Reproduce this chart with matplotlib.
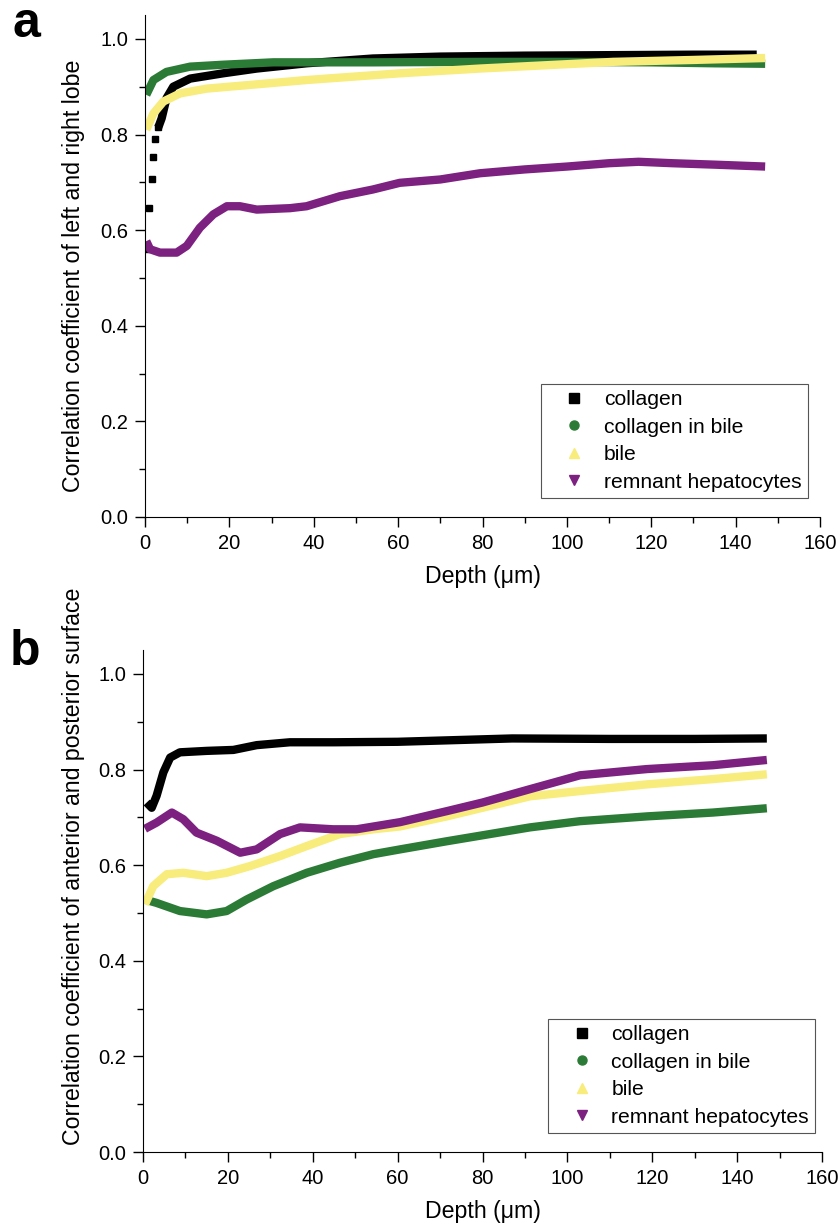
import matplotlib
matplotlib.use("Agg")
import matplotlib.pyplot as plt
from matplotlib.lines import Line2D
from matplotlib.ticker import MultipleLocator, FormatStrFormatter

plt.rcParams['font.family'] = ['Liberation Sans', 'DejaVu Sans']

## panel a: left vs right lobe
# collagen: first points are single squares, then a continuous band
depth_a_col_pts = [0.3, 1.0, 1.58, 1.98, 2.37, 3.16]
col_a_pts = [0.56, 0.646, 0.707, 0.752, 0.79, 0.815]
depth_a_col = [3.16, 3.95, 5.1, 6.7, 10.7, 18.5, 26.5, 38.3, 54, 70, 90, 110, 130, 145]
col_a = [0.815, 0.834, 0.876, 0.9, 0.917, 0.928, 0.938, 0.949, 0.959, 0.963, 0.965, 0.966, 0.967, 0.967]

depth_a_cib = [0.3, 2, 5.1, 10.7, 18.5, 30.4, 54, 80, 100, 120, 135, 147]
cib_a = [0.883, 0.914, 0.931, 0.942, 0.946, 0.951, 0.951, 0.952, 0.952, 0.951, 0.949, 0.948]

depth_a_bile = [0.3, 2, 4.35, 8.3, 14.6, 26.5, 38.3, 54, 60.4, 79.4, 111, 130, 147]
bile_a = [0.81, 0.844, 0.869, 0.886, 0.896, 0.905, 0.914, 0.924, 0.928, 0.938, 0.952, 0.956, 0.96]

depth_a_hep = [0.3, 1.2, 3.55, 7.5, 9.9, 13, 16.2, 19.4, 22.5, 26.5, 34.4, 38.3, 46.2, 54, 60.4,
               70, 79.4, 90, 100, 110, 117, 125, 135, 147]
hep_a = [0.577, 0.56, 0.553, 0.553, 0.567, 0.605, 0.633, 0.65, 0.65, 0.643, 0.646, 0.65, 0.671, 0.685, 0.699,
         0.706, 0.719, 0.727, 0.733, 0.74, 0.743, 0.74, 0.737, 0.733]

## panel b: anterior vs posterior surface
depth_b_col = [0.87, 2.05, 3.2, 4.8, 6.4, 8.7, 15, 21.3, 26.8, 34.6, 45, 60, 87, 110, 130, 147]
col_b = [0.731, 0.72, 0.745, 0.794, 0.825, 0.836, 0.839, 0.841, 0.851, 0.857, 0.857, 0.858, 0.865, 0.864, 0.864, 0.865]

depth_b_cib = [0.47, 3.2, 8.7, 15, 19.7, 24.4, 30.7, 38.6, 46.4, 54.3, 60.6, 71.6, 91.2, 103, 118.8, 134.3, 147]
cib_b = [0.528, 0.521, 0.504, 0.497, 0.504, 0.528, 0.556, 0.584, 0.605, 0.623, 0.633, 0.65, 0.679, 0.692, 0.702, 0.71, 0.719]

depth_b_bile = [0.47, 2.4, 5.6, 9.5, 15, 19.7, 25.2, 32.3, 38.6, 46.4, 54.3, 60.6, 71.6, 91.2, 103, 118.8, 134.3, 147]
bile_b = [0.518, 0.556, 0.581, 0.584, 0.577, 0.584, 0.598, 0.619, 0.64, 0.665, 0.675, 0.681, 0.702, 0.744, 0.755, 0.769, 0.78, 0.79]

depth_b_hep = [0.47, 3.2, 6.8, 9.5, 12.6, 17.4, 22.9, 26.8, 32.3, 37, 44.8, 50.3, 60.6, 71.6, 80, 91.2,
               103, 118.8, 134.3, 147]
hep_b = [0.676, 0.689, 0.71, 0.696, 0.668, 0.651, 0.626, 0.633, 0.665, 0.679, 0.675, 0.675, 0.69, 0.713, 0.731, 0.759,
         0.788, 0.801, 0.809, 0.82]

labels = ['collagen', 'collagen in bile', 'bile', 'remnant hepatocytes']
colors = ['black', '#2b7b36', '#f7ec7c', '#7d2181']
markers = ['s', 'o', '^', 'v']

fig = plt.figure(figsize=(8.4, 12.29), dpi=100)
ax_a = fig.add_axes([145/840, 1-517/1229, 675/840, 502/1229])
ax_b = fig.add_axes([143/840, 1-1152/1229, 679/840, 502/1229])

LW = 6
style = dict(lw=LW, solid_capstyle='butt', solid_joinstyle='round')

# a
ax_a.plot(depth_a_col_pts, col_a_pts, 's', color=colors[0], ms=4.5)
ax_a.plot(depth_a_col, col_a, '-', color=colors[0], **style)
ax_a.plot(depth_a_cib, cib_a, '-', color=colors[1], **style)
ax_a.plot(depth_a_bile, bile_a, '-', color=colors[2], **style)
ax_a.plot(depth_a_hep, hep_a, '-', color=colors[3], **style)

# b
ax_b.plot(depth_b_col, col_b, '-', color=colors[0], **style)
ax_b.plot(depth_b_cib, cib_b, '-', color=colors[1], **style)
ax_b.plot(depth_b_bile, bile_b, '-', color=colors[2], **style)
ax_b.plot(depth_b_hep, hep_b, '-', color=colors[3], **style)

handles = [Line2D([], [], ls='none', marker=m, color=c, ms=6.5) for m, c in zip(markers, colors)]

panels = [(ax_a, 'Correlation coefficient of left and right lobe', (0.982, 0.038), -0.089, 0.48),
          (ax_b, 'Correlation coefficient of anterior and posterior surface', (0.99, 0.038), -0.085, 0.57)]
for ax, ylab, anchor, ylx, yly in panels:
    ax.set_xlim(0, 160)
    ax.set_ylim(0, 1.05)
    ax.spines['top'].set_visible(False)
    ax.spines['right'].set_visible(False)
    ax.xaxis.set_major_locator(MultipleLocator(20))
    ax.xaxis.set_minor_locator(MultipleLocator(10))
    ax.yaxis.set_major_locator(MultipleLocator(0.2))
    ax.yaxis.set_minor_locator(MultipleLocator(0.1))
    ax.yaxis.set_major_formatter(FormatStrFormatter('%.1f'))
    ax.tick_params(which='major', direction='out', length=7, width=1, labelsize=14.5, pad=5)
    ax.tick_params(which='minor', direction='out', length=4, width=1)
    ax.set_xlabel('Depth (\u03bcm)', fontsize=16.7)
    ax.set_ylabel(ylab, fontsize=16.7)
    ax.yaxis.set_label_coords(ylx, yly)
    ax.xaxis.set_label_coords(0.5, -0.095)
    leg = ax.legend(handles, labels, loc='lower right', bbox_to_anchor=anchor, borderaxespad=0,
                    fontsize=15.2, frameon=True, fancybox=False, edgecolor='#555555', framealpha=1,
                    handletextpad=0.1, labelspacing=0.4, borderpad=0.3, handlelength=2.6)
    leg.get_frame().set_linewidth(0.8)

fig.text(12/840, 1-37/1229, 'a', fontsize=36, fontweight='bold')
fig.text(10/840, 1-665/1229, 'b', fontsize=36, fontweight='bold')

plt.savefig('out.png', dpi=100)
